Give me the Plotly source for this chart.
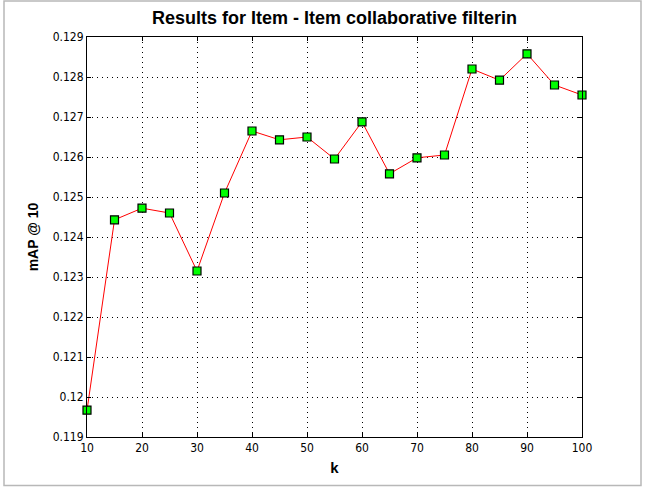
import plotly.graph_objects as go

k_values = [10, 15, 20, 25, 30, 35, 40, 45, 50, 55, 60, 65, 70, 75, 80, 85, 90, 95, 100]
map_at_10 = [0.11967, 0.12443, 0.12472, 0.12460, 0.12315, 0.12510, 0.12665, 0.12643,
             0.12650, 0.12595, 0.12688, 0.12558, 0.12598, 0.12605, 0.12820, 0.12792,
             0.12858, 0.12780, 0.12755]

x_ticks = [10, 20, 30, 40, 50, 60, 70, 80, 90, 100]
y_ticks = [0.119, 0.120, 0.121, 0.122, 0.123, 0.124, 0.125, 0.126, 0.127, 0.128, 0.129]
y_tick_labels = ["0.119", "0.12", "0.121", "0.122", "0.123", "0.124", "0.125",
                 "0.126", "0.127", "0.128", "0.129"]

W, H = 645, 490
L, R, T, B = 87, 582, 37, 437

def px(x):
    return (x - L) / (R - L)

def py(y):
    return (B - y) / (B - T)

fig = go.Figure()
fig.add_trace(go.Scatter(
    x=k_values, y=map_at_10, mode="lines+markers",
    line=dict(color="#ff0000", width=1),
    marker=dict(symbol="square", size=8, color="#00ff00",
                line=dict(color="#000000", width=1.2)),
    cliponaxis=False, showlegend=False,
))

tick_font = dict(family="DejaVu Sans Condensed, Liberation Sans Narrow, Arial", size=12, color="#000000")
common = dict(
    showline=True, linecolor="#000000", linewidth=1, mirror="ticks",
    ticks="inside", ticklen=4, tickcolor="#000000", tickwidth=1,
    showgrid=True, gridcolor="#000000", griddash="1px,4px", gridwidth=1,
    zeroline=False, tickfont=tick_font,
)

fig.update_layout(
    width=W, height=H,
    margin=dict(l=L, r=W - R, t=T, b=H - B),
    paper_bgcolor="#ffffff", plot_bgcolor="#ffffff",
    title=dict(text="<b>Results for Item - Item collaborative filterin</b>",
               x=0.5, xref="paper", y=1 - 18 / H, yanchor="middle",
               font=dict(family="Liberation Sans, Arial", size=18, color="#000000")),
    xaxis=dict(range=[10, 100], tickvals=x_ticks, ticktext=[str(v) for v in x_ticks],
               title=dict(text="<b>k</b>", font=dict(family="Liberation Sans, Arial", size=15, color="#000000"),
                          standoff=8),
               **common),
    yaxis=dict(range=[0.119, 0.129], tickvals=y_ticks, ticktext=y_tick_labels,
               title=dict(text="<b>mAP @ 10</b>", font=dict(family="Liberation Sans, Arial", size=14, color="#000000"),
                          standoff=10),
               **common),
    shapes=[dict(type="rect", xref="paper", yref="paper",
                 x0=px(4), x1=px(641), y0=py(485.5), y1=py(1),
                 line=dict(color="#b8b8b8", width=1.5), layer="below")],
)

fig.write_html("out.html", config={"displayModeBar": False},
               post_script="document.body.style.margin='0';")
